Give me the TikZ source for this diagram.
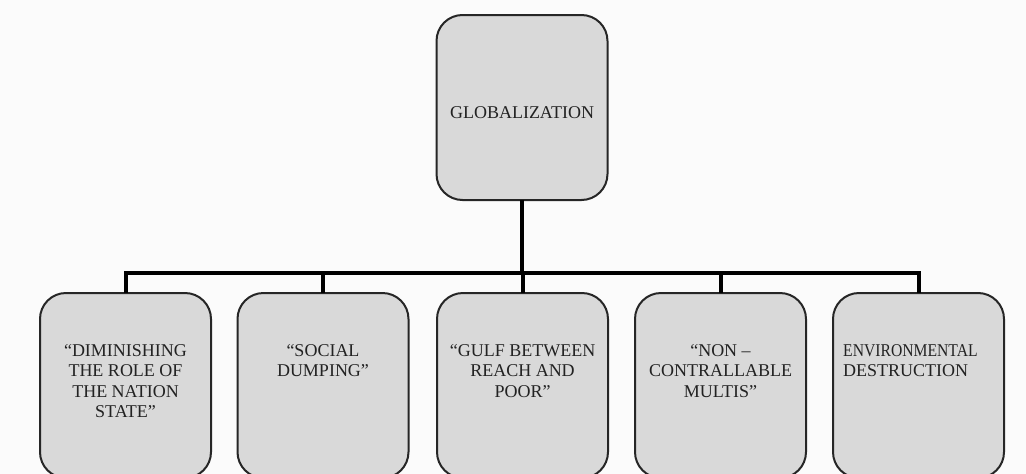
\documentclass[tikz,border=0pt]{standalone}
\usepackage{fontspec}
\setmainfont{Liberation Serif}
\definecolor{boxfill}{HTML}{D9D9D9}
\definecolor{boxdraw}{HTML}{262626}
\definecolor{txt}{HTML}{222222}
\definecolor{bg}{HTML}{FBFBFB}
\begin{document}
\begin{tikzpicture}[x=1pt,y=-1pt,
  box/.style={draw=boxdraw, fill=boxfill, line width=2pt, rounded corners=26pt,
    minimum width=171pt, minimum height=185pt, inner sep=0pt, outer sep=0pt},
  lbl/.style={text=txt, font=\fontsize{18}{20.5}\selectfont, inner sep=0pt, align=center},
  conn/.style={line width=4pt, black}]
\useasboundingbox (0,0) rectangle (1026,474);
\fill[bg] (0,0) rectangle (1026,474);
% top box
\node[box] (g) at (522,107.5) {};
\node[lbl] (gt) at (522,113) {GLOBALIZATION};
% bottom boxes
\node[box] (b1) at (125.5,385.5) {};
\node[box] (b2) at (323,385.5) {};
\node[box] (b3) at (522.5,385.5) {};
\node[box] (b4) at (720.5,385.5) {};
\node[box] (b5) at (918.5,385.5) {};
\node[lbl, anchor=north] (t1) at (125.5,344) {“DIMINISHING\\THE ROLE OF\\THE NATION\\STATE”};
\node[lbl, anchor=north] (t2) at (323,344) {“SOCIAL\\DUMPING”};
\node[lbl, anchor=north] (t3) at (522.5,344) {“GULF BETWEEN\\REACH AND\\POOR”};
\node[lbl, anchor=north] (t4) at (720.5,344) {“NON –\\CONTRALLABLE\\MULTIS”};
\node[lbl, anchor=north west, align=left] (t5) at (843,344) {\scalebox{0.87}[1]{ENVIRONMENTAL}\\DESTRUCTION};
% connectors
\coordinate (j) at (522,273);
\draw[conn] (g.south) -- (j);
\draw[conn] (b1.north) |- (b5.north |- j) -- (b5.north);
\draw[conn] (b2.north) -- (b2.north |- j);
\draw[conn] (b3.north) -- (b3.north |- j);
\draw[conn] (b4.north) -- (b4.north |- j);
\end{tikzpicture}
\end{document}
